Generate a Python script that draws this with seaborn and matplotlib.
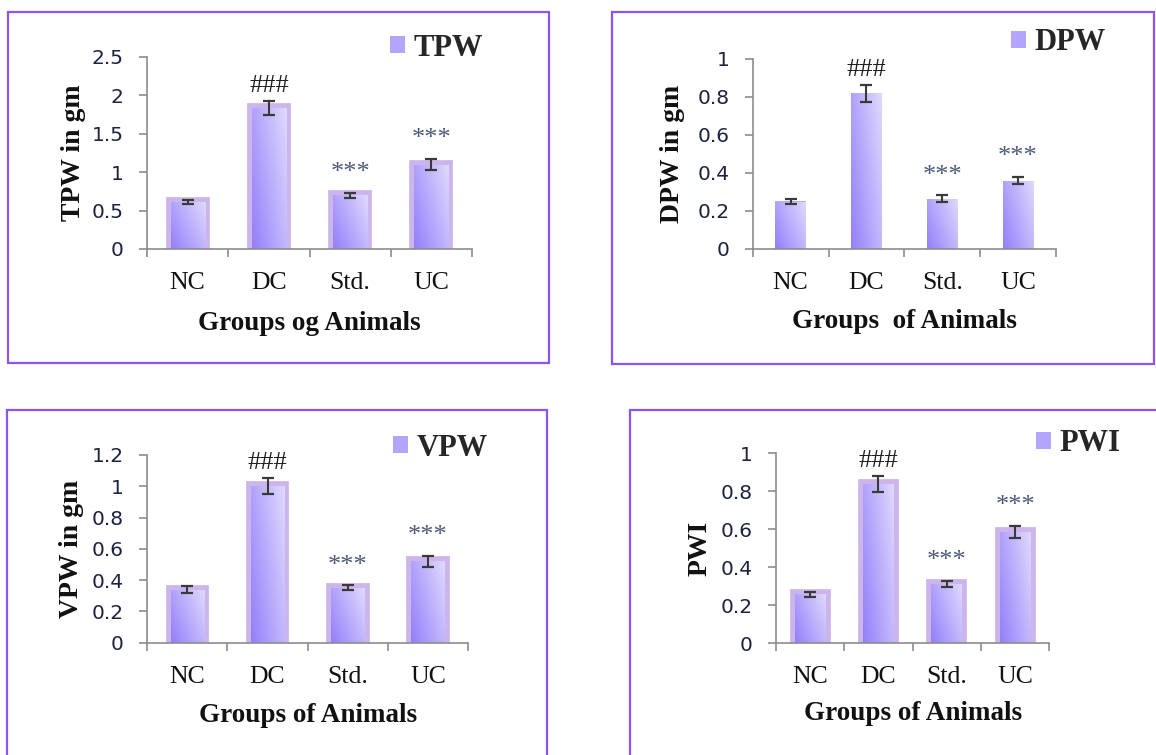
import numpy as np
import matplotlib
matplotlib.use("Agg")
import matplotlib.pyplot as plt
import seaborn as sns
from matplotlib.patches import Rectangle, Patch
from matplotlib.ticker import FixedLocator, FuncFormatter

# ---------------- data ----------------
groups = ["NC", "DC", "Std.", "UC"]

tpw_mean = [0.61, 1.84, 0.70, 1.10]
tpw_err = [0.03, 0.09, 0.03, 0.07]

dpw_mean = [0.25, 0.82, 0.265, 0.36]
dpw_err = [0.012, 0.045, 0.017, 0.018]

vpw_mean = [0.34, 1.00, 0.35, 0.52]
vpw_err = [0.025, 0.05, 0.016, 0.035]

pwi_mean = [0.258, 0.837, 0.312, 0.587]
pwi_err = [0.013, 0.043, 0.018, 0.032]

sig_marks = ["", "###", "***", "***"]

tpw_ticks = [0, 0.5, 1, 1.5, 2, 2.5]
dpw_ticks = [0, 0.2, 0.4, 0.6, 0.8, 1]
vpw_ticks = [0, 0.2, 0.4, 0.6, 0.8, 1, 1.2]
pwi_ticks = [0, 0.2, 0.4, 0.6, 0.8, 1]

# ---------------- style ----------------
sns.set_theme(style="white")
plt.rcParams["font.family"] = ["DejaVu Sans"]

SERIF = "Liberation Serif"
W, H = 1156, 755
fig = plt.figure(figsize=(W / 100, H / 100), dpi=100)
fig.patch.set_facecolor("white")

def fx(x):
    return x / W

def fy(y):
    return 1 - y / H

panels = [
    dict(mean=tpw_mean, err=tpw_err, name="TPW", ylabel="TPW in gm",
         xlabel="Groups og Animals", ticks=tpw_ticks,
         ax=(147, 57, 472, 249), box=(8, 12, 549, 363), glow=True,
         width=0.42, leg=(390, 48), ylab_x=80.0, xlab_y=322),
    dict(mean=dpw_mean, err=dpw_err, name="DPW", ylabel="DPW in gm",
         xlabel="Groups  of Animals", ticks=dpw_ticks,
         ax=(752.7, 59, 1056, 249), box=(611.5, 12, 1154, 364), glow=False,
         width=0.40, leg=(1011, 43), ylab_x=679.0, xlab_y=320),
    dict(mean=vpw_mean, err=vpw_err, name="VPW", ylabel="VPW in gm",
         xlabel="Groups of Animals", ticks=vpw_ticks,
         ax=(147.3, 455, 468, 642.7), box=(7, 410, 547, 900), glow=True,
         width=0.42, leg=(393, 448), ylab_x=78.0, xlab_y=713),
    dict(mean=pwi_mean, err=pwi_err, name="PWI", ylabel="PWI",
         xlabel="Groups of Animals", ticks=pwi_ticks,
         ax=(776, 453.3, 1049.3, 643.3), box=(630, 410, 1300, 900), glow=True,
         width=0.45, leg=(1036, 444), ylab_x=707, xlab_y=712),
]

dark = np.array(matplotlib.colors.to_rgb("#937ffa"))
light = np.array(matplotlib.colors.to_rgb("#e0d9fd"))
glow_col = (0.80, 0.71, 0.92)
axis_col = "#8c8c8c"
tick_txt = "#1c2340"


def gradient_fill(ax, patch, zorder):
    bb = patch.get_bbox()
    xs = np.linspace(0, 1, 48)
    ys = np.linspace(0, 1, 96)
    X, Y = np.meshgrid(xs, ys)
    t = np.clip(0.62 * X + 0.38 * Y, 0, 1)
    img = dark[None, None, :] * (1 - t[..., None]) + light[None, None, :] * t[..., None]
    im = ax.imshow(img, extent=[bb.x0, bb.x1, bb.y0, bb.y1], origin="lower",
                   aspect="auto", zorder=zorder, interpolation="bilinear")
    im.set_clip_path(patch)


for p in panels:
    l, t, r, b = p["ax"]
    ax = fig.add_axes([fx(l), fy(b), (r - l) / W, (b - t) / H])
    ax.set_facecolor("none")

    sns.barplot(x=groups, y=p["mean"], ax=ax, color="#b7a9fb", saturation=1,
                width=p["width"], errorbar=None,
                linewidth=7 if p["glow"] else 0,
                edgecolor=glow_col if p["glow"] else "none", zorder=2)
    for patch in list(ax.patches):
        gradient_fill(ax, patch, zorder=2.5)

    xpos = np.arange(len(groups))
    ax.errorbar(xpos, p["mean"], yerr=p["err"], fmt="none", ecolor="#3a3a3a",
                elinewidth=1.5, capsize=4.5, capthick=1.6, zorder=4)

    for i, (m, e, s) in enumerate(zip(p["mean"], p["err"], sig_marks)):
        if not s:
            continue
        off = 6.5 if s.startswith("#") else 10.0
        col = "#1e1e1e" if s.startswith("#") else "#4a5878"
        ax.annotate(s, (i, m + e), xytext=(0, off), textcoords="offset points",
                    ha="center", va="baseline", fontsize=19, family=SERIF,
                    color=col, zorder=5)

    ax.set_xlim(-0.5, len(groups) - 0.5)
    ax.set_ylim(0, p["ticks"][-1])
    ax.yaxis.set_major_locator(FixedLocator(p["ticks"]))
    ax.yaxis.set_major_formatter(FuncFormatter(lambda v, pos: f"{v:g}"))
    ax.xaxis.set_minor_locator(FixedLocator(np.arange(len(groups) + 1) - 0.5))

    for side in ("top", "right"):
        ax.spines[side].set_visible(False)
    for side in ("left", "bottom"):
        ax.spines[side].set_color(axis_col)
        ax.spines[side].set_linewidth(1.2)

    ax.tick_params(axis="y", which="major", direction="out", length=5.8,
                   width=1.2, color=axis_col, pad=11.0, labelsize=14.5,
                   labelcolor=tick_txt, left=True)
    ax.tick_params(axis="x", which="major", length=0, pad=16.5)
    ax.tick_params(axis="x", which="minor", direction="out", length=6,
                   width=1.2, color=axis_col, bottom=True)
    for lab in ax.get_xticklabels():
        lab.set_fontfamily(SERIF)
        lab.set_fontsize(18.5)
        lab.set_color("#111111")
    for lab in ax.get_yticklabels():
        lab.set_fontfamily("DejaVu Sans")

    ax.set_xlabel(p["xlabel"], fontsize=19.5, fontweight="bold", family=SERIF,
                  color="#111111")
    ax.xaxis.label.set_va("baseline")
    ax.xaxis.set_label_coords(fx((l + r) / 2), fy(p["xlab_y"] + 8.5),
                              transform=fig.transFigure)
    ax.set_ylabel(p["ylabel"], fontsize=20, fontweight="bold", family=SERIF,
                  color="#111111")
    ax.yaxis.label.set_va("baseline")
    ax.yaxis.set_label_coords(fx(p["ylab_x"]), fy((t + b) / 2),
                              transform=fig.transFigure)

    lx, ly = p["leg"]
    handle = Patch(facecolor="#b3a5fb", edgecolor="none", label=p["name"])
    ax.legend(handles=[handle], loc="center left",
              bbox_to_anchor=(fx(lx), fy(ly)), bbox_transform=fig.transFigure,
              frameon=False, prop=dict(family=SERIF, weight="bold", size=22),
              handlelength=0.48, handleheight=0.48, handletextpad=0.3,
              borderpad=0, borderaxespad=0)

    x0, y0, x1, y1 = p["box"]
    fig.add_artist(Rectangle((fx(x0), fy(y1)), (x1 - x0) / W, (y1 - y0) / H,
                             transform=fig.transFigure, fill=False,
                             edgecolor="#8a55f7", linewidth=1.6))

fig.savefig("out.png", dpi=100, facecolor="white")
